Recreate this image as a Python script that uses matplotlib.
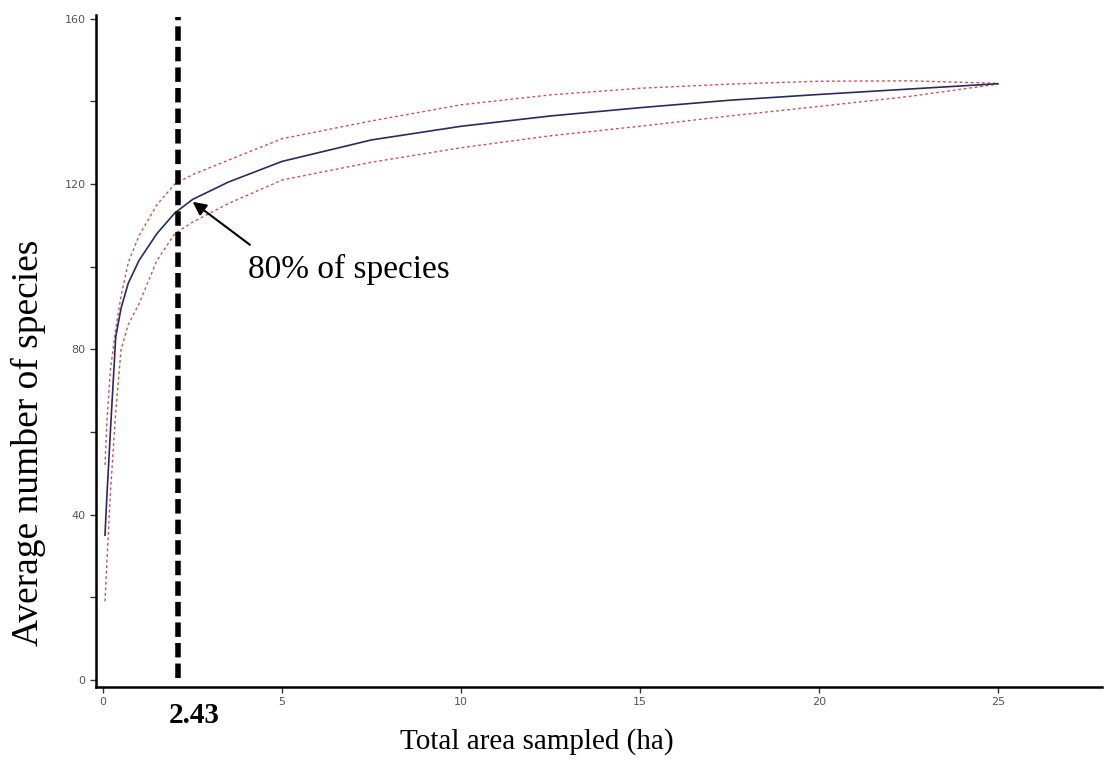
import numpy as np
import matplotlib
matplotlib.use("Agg")
import matplotlib.pyplot as plt

# species accumulation curve
area = [0.05, 0.1, 0.2, 0.35, 0.5, 0.7, 1.0, 1.5, 2.0, 2.5, 3.5, 5, 7.5, 10,
        12.5, 15, 17.5, 20, 22.5, 25]
mean_sp = [35, 44, 60, 83, 90, 96, 101.5, 108, 113, 116.3, 120.5, 125.5, 130.7,
           134, 136.5, 138.5, 140.3, 141.7, 143, 144.3]
upper_sp = [52, 62, 75, 85, 93, 101, 107.5, 115, 120, 122.3, 125.8, 131, 135.3,
            139.2, 141.6, 143.2, 144.2, 144.9, 145, 144.4]
lower_sp = [19, 28, 45, 65, 80, 86, 91, 101.5, 108, 110.8, 115.3, 121, 125.3,
            128.8, 131.7, 134, 136.5, 138.8, 141.2, 144.2]

cut_x = 2.1
cut_label = "2.43"
yticks = [0, 40, 80, 120, 160]
xticks = [0, 5, 10, 15, 20, 25]

serif = ["Liberation Serif", "DejaVu Serif"]

fig = plt.figure(figsize=(11.04, 7.76), dpi=100)
ax = fig.add_axes([0.087, 0.115, 0.911, 0.866])

ax.plot(area, upper_sp, color="#d05050", lw=1.0, ls=(0, (2, 2)))
ax.plot(area, lower_sp, color="#d05050", lw=1.0, ls=(0, (2, 2)))
ax.plot(area, mean_sp, color="#2a2a60", lw=1.2)

ax.plot([cut_x, cut_x], [0.5, 160.5], color="black", lw=4, ls=(0, (2.6, 1.1)))

ax.annotate("", xy=(2.5, 115.7), xytext=(4.1, 105.3),
            arrowprops=dict(arrowstyle="-|>", color="black", lw=1.5,
                            mutation_scale=20, shrinkA=0, shrinkB=0))
ax.text(4.05, 99.3, "80% of species", fontsize=24, family=serif,
        va="center", ha="left")

ax.set_xlim(-0.2, 27.9)
ax.set_ylim(-1.7, 161)
ax.spines["top"].set_visible(False)
ax.spines["right"].set_visible(False)
ax.spines["left"].set_linewidth(1.8)
ax.spines["bottom"].set_linewidth(1.8)

ax.set_yticks(yticks)
ax.set_yticks([20, 60, 100, 140], minor=True)
ax.set_xticks(xticks)
ax.tick_params(axis="both", which="both", length=4, width=1, color="#333333",
               labelsize=8, labelcolor="#555555")

fig.text(0.486, 0.044, "Total area sampled (ha)", fontsize=21, family=serif,
         ha="center", va="center")
fig.text(0.026, 0.429, "Average number of species", fontsize=27, family=serif,
         ha="center", va="center", rotation=90)

ax.text(2.55, -5.5, cut_label, fontsize=21, family=serif, fontweight="bold",
        ha="center", va="top")

fig.savefig("out.png", dpi=100)
